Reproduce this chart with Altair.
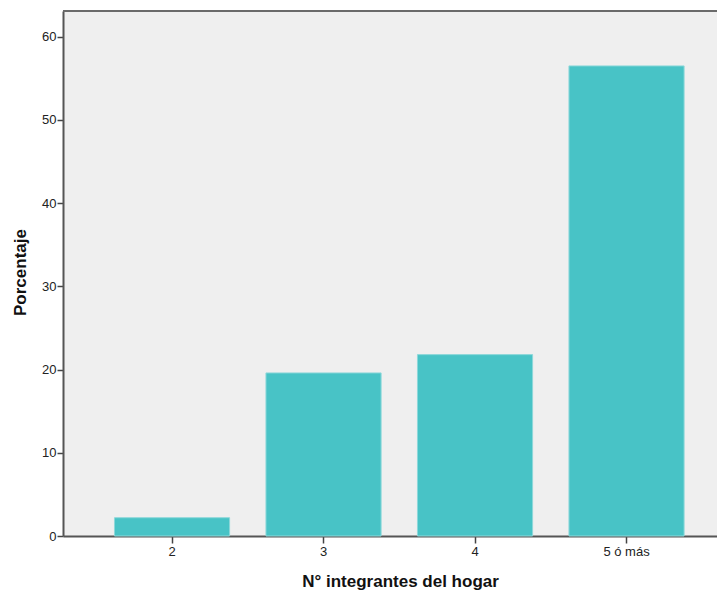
import altair as alt
import pandas as pd

categories = ["2", "3", "4", "5 ó más"]
percentages = [2.2, 19.6, 21.8, 56.5]

df = pd.DataFrame({"cat": categories, "pct": percentages})

bars = alt.Chart(df).mark_bar(color="#48C3C6", stroke="#8ED8DA", strokeWidth=1).encode(
    x=alt.X("cat:N", sort=categories,
            scale=alt.Scale(paddingInner=0.24, paddingOuter=0.2785, align=0.61),
            axis=alt.Axis(title="N° integrantes del hogar", labelAngle=0,
                          labelFont="Liberation Sans", labelFontSize=13, labelColor="#222",
                          titleFont="Liberation Sans", titleFontSize=17, titleFontWeight="bold",
                          titleColor="#111", titleX=337, titleY=50, titleAlign="center",
                          titleBaseline="alphabetic",
                          domainColor="#555", domainWidth=2, tickColor="#444", tickWidth=1.5,
                          tickSize=7, labelPadding=2)),
    y=alt.Y("pct:Q", scale=alt.Scale(domain=[0, 63.1], nice=False, zero=True),
            axis=alt.Axis(title="Porcentaje", values=[0, 10, 20, 30, 40, 50, 60], grid=False,
                          labelFont="Liberation Sans", labelFontSize=13, labelColor="#222",
                          titleFont="Liberation Sans", titleFontSize=17, titleFontWeight="bold",
                          titleColor="#111", titleX=-38, titleY=261, titleAlign="center",
                          titleBaseline="alphabetic",
                          domainColor="#555", domainWidth=2, tickColor="#444", tickWidth=1.5,
                          tickSize=6, labelPadding=1)),
)

top_line = alt.Chart(df).mark_rule(color="#6a6a6a", strokeWidth=2).encode(
    x=alt.value(0), x2=alt.value(654), y=alt.value(0)
)

chart = alt.layer(bars, top_line).properties(
    width=654, height=525,
    autosize=alt.AutoSizeParams(type="none"),
    padding={"left": 55, "top": 3, "right": 0, "bottom": 54},
).configure_view(stroke=None, fill="#EFEFEF")

chart.save("out.html", embed_options={"renderer": "svg", "actions": False})
